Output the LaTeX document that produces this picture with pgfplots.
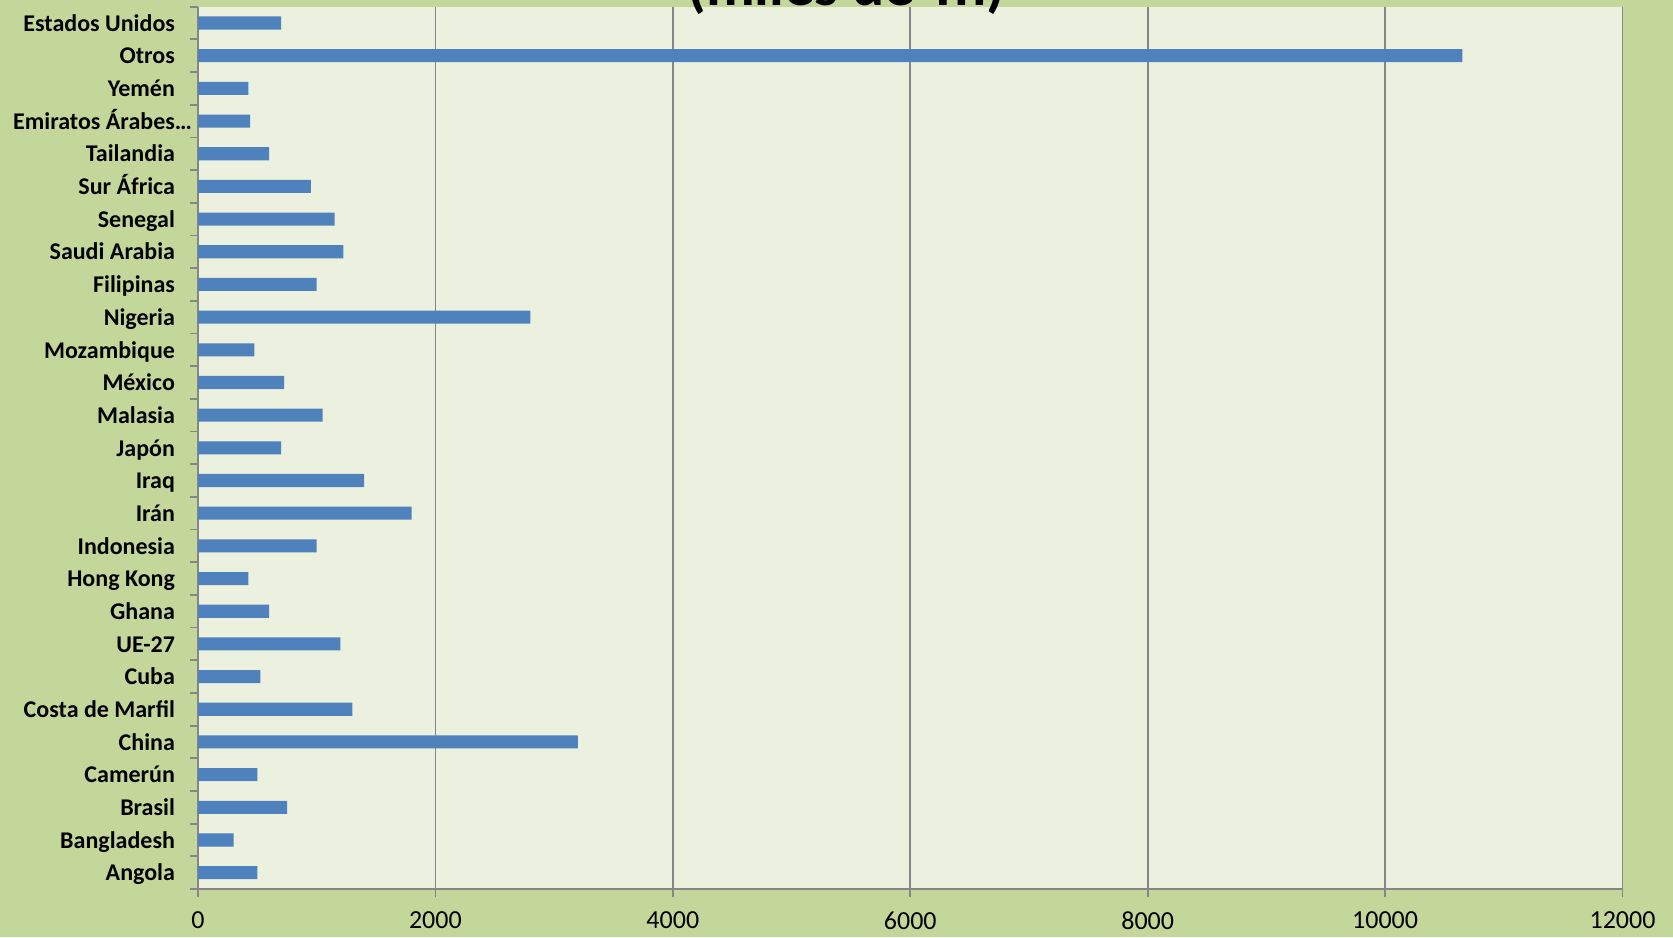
\documentclass[border=0pt]{standalone}
\usepackage{pgfplots}
\pgfplotsset{compat=1.18}
\usepackage{pgfplotstable}
\usepackage{fontspec}
\setmainfont{Carlito}
\definecolor{outerbg}{HTML}{C4D79B}
\definecolor{plotbg}{HTML}{EBF1DE}
\definecolor{barblue}{HTML}{4F81BD}
\definecolor{gridgray}{HTML}{868686}
\pgfplotstableread{
y val
0 500
1 300
2 750
3 500
4 3200
5 1300
6 525
7 1200
8 600
9 425
10 1000
11 1800
12 1400
13 700
14 1050
15 725
16 475
17 2800
18 1000
19 1225
20 1150
21 950
22 600
23 440
24 425
25 10650
26 700
}\datatable
\begin{document}
\begin{tikzpicture}
\fill[outerbg] (0,0) rectangle (836.5pt,468.5pt);
\begin{axis}[
  at={(99pt,24pt)}, anchor=south west,
  scale only axis, width=712.25pt, height=441.15pt,
  xbar, bar width=0.4,
  xmin=0, xmax=12000, ymin=-0.5, ymax=26.5,
  axis background/.style={fill=plotbg},
  axis x line*=bottom, axis y line*=left,
  axis line style={gridgray, line width=1pt},
  xtick={0,2000,...,12000},
  xmajorgrids, major grid style={gridgray, line width=0.9pt},
  tick align=outside, major tick length=4pt,
  tick style={gridgray, line width=0.9pt},
  scaled x ticks=false,
  /pgf/number format/assume math mode=true,
  /pgf/number format/set thousands separator={},
  xticklabel style={font=\fontsize{13}{15}\selectfont, yshift=-4pt},
  ytick={-0.5,0.5,...,26.5}, yticklabel={\mbox{}},
  extra y ticks={0,1,...,26},
  extra y tick labels={Angola,Bangladesh,Brasil,Camerún,China,Costa de Marfil,Cuba,UE-27,Ghana,Hong Kong,Indonesia,Irán,Iraq,Japón,Malasia,México,Mozambique,Nigeria,Filipinas,Saudi Arabia,Senegal,Sur África,Tailandia,Emiratos Árabes…\hspace*{-8.5pt},Yemén,Otros,Estados Unidos},
  extra y tick style={tick style={draw=none}, yticklabel style={font=\bfseries\fontsize{12}{14}\selectfont, xshift=-4pt, yshift=-1pt, text height=1.75ex, text depth=0.45ex}},
]
\addplot[fill=barblue, draw=none] table[x=val, y=y] {\datatable};
\end{axis}
\node[anchor=base, font=\bfseries\fontsize{30}{36}\selectfont] at (423.25pt,465.5pt) {(miles de Tn)};
\pgfresetboundingbox
\path (0,0) rectangle (836.5pt,468.5pt);
\end{tikzpicture}
\end{document}
